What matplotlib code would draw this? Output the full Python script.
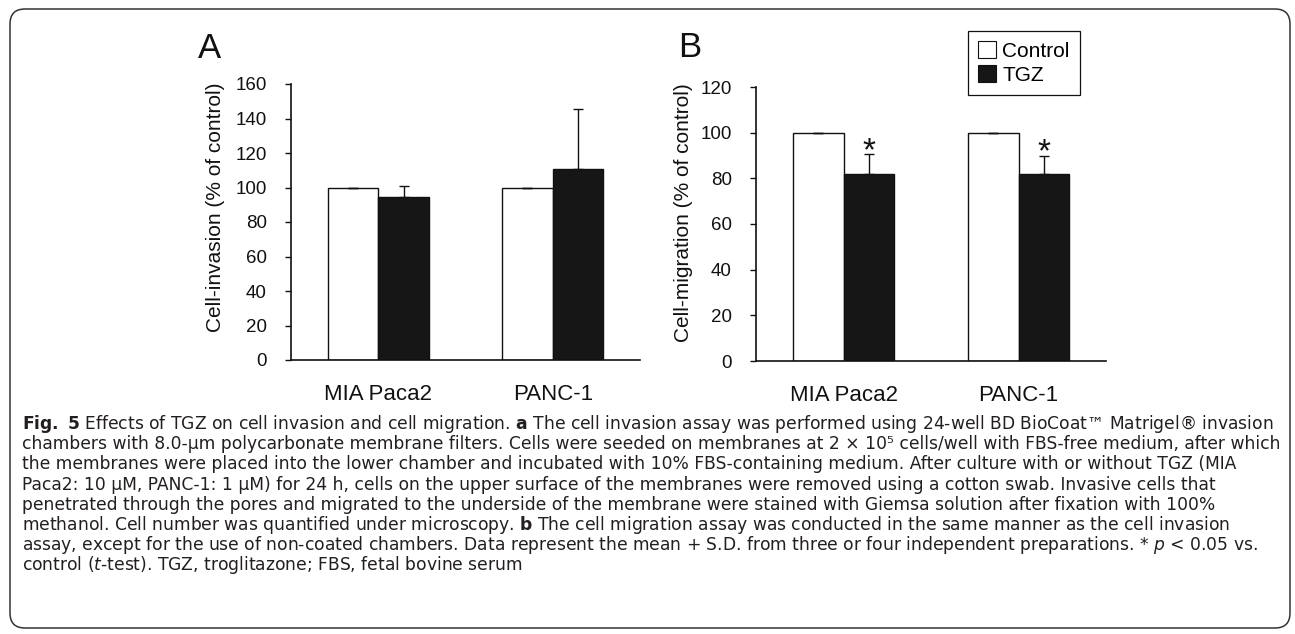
import matplotlib
matplotlib.use("Agg")
import matplotlib.pyplot as plt
from matplotlib.patches import FancyBboxPatch, Patch
import numpy as np

plt.rcParams['font.family'] = ['Liberation Sans', 'DejaVu Sans']

# data
cell_lines = ["MIA Paca2", "PANC-1"]
groups = ["Control", "TGZ"]

invasion_control = [100, 100]
invasion_control_sd = [0, 0]
invasion_tgz = [94.5, 110.5]
invasion_tgz_sd = [6.3, 35.0]
invasion_signif = [False, False]

migration_control = [100, 100]
migration_control_sd = [0, 0]
migration_tgz = [81.8, 81.8]
migration_tgz_sd = [8.7, 8.0]
migration_signif = [True, True]

caption_lines = [
    r"$\mathbf{Fig.}$ $\mathbf{5}$ Effects of TGZ on cell invasion and cell migration. $\mathbf{a}$ The cell invasion assay was performed using 24-well BD BioCoat™ Matrigel® invasion",
    "chambers with 8.0-µm polycarbonate membrane filters. Cells were seeded on membranes at 2 × 10⁵ cells/well with FBS-free medium, after which",
    "the membranes were placed into the lower chamber and incubated with 10% FBS-containing medium. After culture with or without TGZ (MIA",
    "Paca2: 10 µM, PANC-1: 1 µM) for 24 h, cells on the upper surface of the membranes were removed using a cotton swab. Invasive cells that",
    "penetrated through the pores and migrated to the underside of the membrane were stained with Giemsa solution after fixation with 100%",
    r"methanol. Cell number was quantified under microscopy. $\mathbf{b}$ The cell migration assay was conducted in the same manner as the cell invasion",
    r"assay, except for the use of non-coated chambers. Data represent the mean + S.D. from three or four independent preparations. * $\mathit{p}$ < 0.05 vs.",
    r"control ($\mathit{t}$-test). TGZ, troglitazone; FBS, fetal bovine serum",
]

W, H = 1295, 634
fig = plt.figure(figsize=(W / 100, H / 100), dpi=100)

INK = '#111111'


def draw_panel(ax, ctrl, ctrl_sd, tgz, tgz_sd, signif, ymax, ylabel, label_x, label_y):
    x = np.arange(len(cell_lines))
    w = 0.29
    ax.bar(x - w / 2, ctrl, w, color='white', edgecolor=INK, linewidth=1.0)
    ax.bar(x + w / 2, tgz, w, color='#161616', edgecolor=INK, linewidth=1.0)
    ax.errorbar(x - w / 2, ctrl, yerr=[np.zeros(len(x)), ctrl_sd], fmt='none',
                ecolor=INK, elinewidth=1.0, capsize=3.5, capthick=1.0)
    ax.errorbar(x + w / 2, tgz, yerr=[np.zeros(len(x)), tgz_sd], fmt='none',
                ecolor=INK, elinewidth=1.0, capsize=3.5, capthick=1.0)
    for xi, m, s, sig in zip(x, tgz, tgz_sd, signif):
        if sig:
            ax.annotate('*', xy=(xi + w / 2, m + s), xytext=(0, -4),
                        textcoords='offset points', ha='center', va='baseline',
                        fontsize=24, color=INK)
    ax.set_xlim(-0.5, 1.5)
    ax.set_ylim(0, ymax)
    ax.set_yticks(range(0, ymax + 1, 20))
    ax.set_xticks(x, cell_lines)
    for side in ['top', 'right']:
        ax.spines[side].set_visible(False)
    for side in ['left', 'bottom']:
        ax.spines[side].set_linewidth(1.2)
        ax.spines[side].set_color(INK)
    ax.tick_params(axis='y', direction='out', length=4.5, width=1.0, pad=13,
                   labelsize=13.5, colors=INK)
    ax.tick_params(axis='x', length=0, pad=17, labelsize=16, colors=INK)
    ax.set_ylabel(ylabel, fontsize=15, color=INK)
    ax.yaxis.set_label_coords(label_x, label_y)


axA = fig.add_axes([291 / W, 1 - 360 / H, 349 / W, 276 / H])
draw_panel(axA, invasion_control, invasion_control_sd, invasion_tgz, invasion_tgz_sd,
           invasion_signif, 160, "Cell-invasion (% of control)", -0.19, 0.555)

axB = fig.add_axes([756 / W, 1 - 361 / H, 350 / W, 274 / H])
draw_panel(axB, migration_control, migration_control_sd, migration_tgz, migration_tgz_sd,
           migration_signif, 120, "Cell-migration (% of control)", -0.18, 0.54)

fig.text(210 / W, 1 - 58 / H, "A", fontsize=25, ha='center', va='baseline', color=INK)
fig.text(690 / W, 1 - 57 / H, "B", fontsize=25, ha='center', va='baseline', color=INK)

handles = [Patch(facecolor='white', edgecolor=INK, linewidth=0.8),
           Patch(facecolor='#161616', edgecolor=INK, linewidth=0.8)]
leg = fig.legend(handles, groups, loc='upper left', bbox_to_anchor=(968 / W, 1 - 31 / H),
                 borderaxespad=0, fontsize=15, frameon=True, fancybox=False,
                 edgecolor=INK, framealpha=1, handlelength=0.85, handleheight=0.85,
                 handletextpad=0.3, borderpad=0.5, labelspacing=0.2)
leg.get_frame().set_linewidth(0.9)

# caption
for i, line in enumerate(caption_lines):
    fig.text(22 / W, 1 - (429 + i * 20.2) / H, line, fontsize=12.3, family='DejaVu Sans',
             color='#231f20', ha='left', va='baseline')

# rounded frame around the whole figure
frame = FancyBboxPatch((0.10, 0.06), 12.80, 6.19, boxstyle='round,pad=0,rounding_size=0.15',
                       transform=fig.dpi_scale_trans, fill=False, linewidth=1.1,
                       edgecolor='#333333')
fig.add_artist(frame)

fig.savefig("out.png", dpi=100)
